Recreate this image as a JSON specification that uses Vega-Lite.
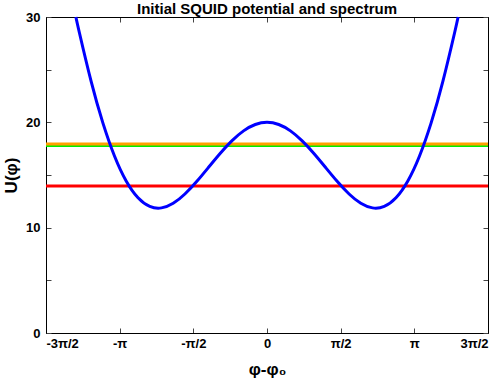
{
  "$schema": "https://vega.github.io/schema/vega-lite/v6.json",
  "width": 442,
  "height": 316,
  "autosize": {"type": "none"},
  "padding": {"left": 46, "top": 17, "right": 14, "bottom": 49},
  "background": "white",
  "title": {"text": "Initial SQUID potential and spectrum", "font": "Liberation Sans", "fontSize": 15, "fontWeight": "bold", "color": "black", "offset": 4, "dy": 10},
  "config": {
    "view": {"stroke": "black", "strokeWidth": 1},
    "axis": {
      "grid": false,
      "domainColor": "black",
      "tickColor": "#444444",
      "tickSize": -5,
      "tickWidth": 1,
      "labelFont": "Liberation Sans",
      "labelFontSize": 13,
      "labelFontWeight": "bold",
      "labelColor": "black",
      "titleFont": "Liberation Sans",
      "titleFontSize": 17,
      "titleFontWeight": "bold",
      "titleColor": "black"
    }
  },
  "datasets": {
    "potential": [
      {"phi": -4.075, "U": 30.0},
      {"phi": -4.0, "U": 28.505},
      {"phi": -3.75, "U": 23.882},
      {"phi": -3.5, "U": 19.952},
      {"phi": -3.25, "U": 16.783},
      {"phi": -3.0, "U": 14.413},
      {"phi": -2.75, "U": 12.838},
      {"phi": -2.5, "U": 12.018},
      {"phi": -2.25, "U": 11.878},
      {"phi": -2.0, "U": 12.314},
      {"phi": -1.75, "U": 13.195},
      {"phi": -1.5, "U": 14.378},
      {"phi": -1.25, "U": 15.711},
      {"phi": -1.0, "U": 17.044},
      {"phi": -0.75, "U": 18.242},
      {"phi": -0.5, "U": 19.188},
      {"phi": -0.25, "U": 19.792},
      {"phi": 0.0, "U": 20.0},
      {"phi": 0.25, "U": 19.792},
      {"phi": 0.5, "U": 19.188},
      {"phi": 0.75, "U": 18.242},
      {"phi": 1.0, "U": 17.044},
      {"phi": 1.25, "U": 15.711},
      {"phi": 1.5, "U": 14.378},
      {"phi": 1.75, "U": 13.195},
      {"phi": 2.0, "U": 12.314},
      {"phi": 2.25, "U": 11.878},
      {"phi": 2.5, "U": 12.018},
      {"phi": 2.75, "U": 12.838},
      {"phi": 3.0, "U": 14.413},
      {"phi": 3.25, "U": 16.783},
      {"phi": 3.5, "U": 19.952},
      {"phi": 3.75, "U": 23.882},
      {"phi": 4.0, "U": 28.505},
      {"phi": 4.075, "U": 30.0}
    ],
    "levels": [
      {"level": "E0", "U": 13.96},
      {"level": "E1", "U": 17.8},
      {"level": "E2", "U": 17.95}
    ]
  },
  "layer": [
    {
      "data": {"name": "levels"},
      "mark": {"type": "rule", "strokeWidth": 3},
      "encoding": {
        "y": {"field": "U", "type": "quantitative", "scale": {"domain": [0, 30], "nice": false}, "axis": null},
        "color": {"field": "level", "type": "nominal", "scale": {"domain": ["E0", "E1", "E2"], "range": ["#ff0000", "#00ee00", "#ffa000"]}, "legend": null},
        "order": {"field": "level"}
      }
    },
    {
      "data": {"name": "potential"},
      "mark": {"type": "point", "opacity": 0},
      "encoding": {
        "x": {"field": "phi", "type": "quantitative", "scale": {"domain": [-4.71238898, 4.71238898], "nice": false, "zero": false},
          "axis": {"orient": "top", "values": [-4.71238898, -3.14159265, -1.57079633, 0, 1.57079633, 3.14159265, 4.71238898], "labels": false, "title": null}},
        "y": {"field": "U", "type": "quantitative", "scale": {"domain": [0, 30], "nice": false},
          "axis": {"orient": "right", "values": [0, 5, 10, 15, 20, 25, 30], "labels": false, "title": null}}
      }
    },
    {
      "data": {"name": "potential"},
      "mark": {"type": "line", "color": "#0000ff", "strokeWidth": 3, "interpolate": "natural"},
      "encoding": {
        "x": {"field": "phi", "type": "quantitative", "scale": {"domain": [-4.71238898, 4.71238898], "nice": false, "zero": false},
          "axis": {"orient": "bottom", "values": [-4.71238898, -3.14159265, -1.57079633, 0, 1.57079633, 3.14159265, 4.71238898],
            "labelExpr": "['-3π/2','-π','-π/2','0','π/2','π','3π/2'][round(datum.value/1.5707963)+3]",
            "labelPadding": 9, "title": "φ-φ₀", "titlePadding": 11}},
        "y": {"field": "U", "type": "quantitative", "scale": {"domain": [0, 30], "nice": false},
          "axis": {"orient": "left", "values": [0, 5, 10, 15, 20, 25, 30],
            "labelExpr": "datum.value % 10 === 0 ? datum.label : ''",
            "labelPadding": 11, "title": "U(φ)", "titlePadding": 5}}
      }
    }
  ],
  "resolve": {"axis": {"x": "independent", "y": "independent"}}
}
